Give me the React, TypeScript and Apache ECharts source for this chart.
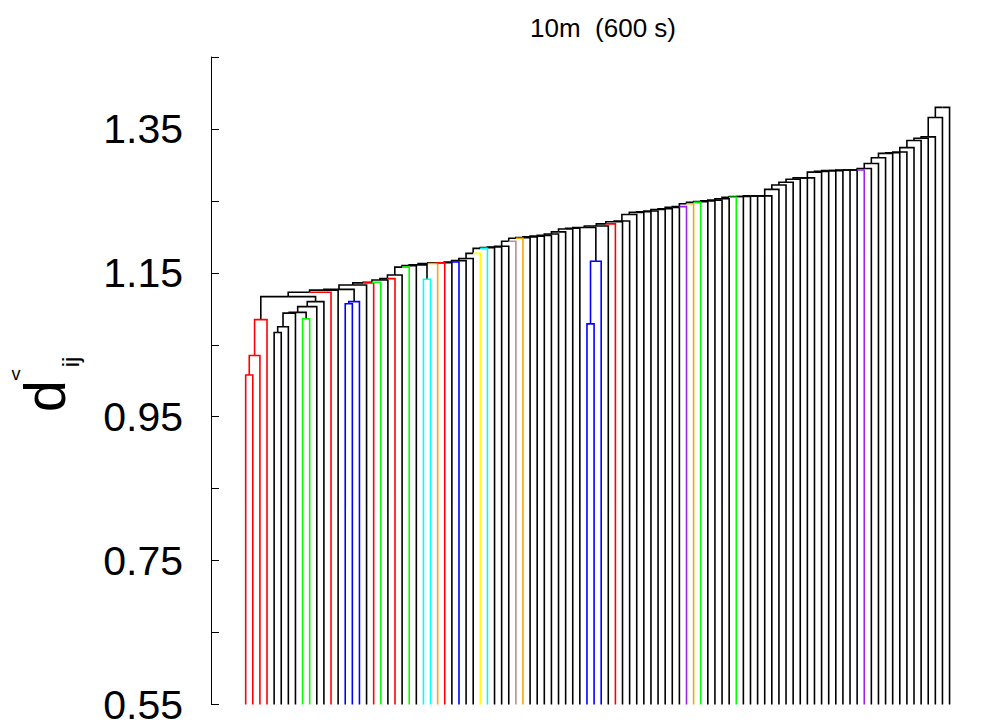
import React, { useEffect, useRef } from "react";
import * as echarts from "echarts";

// leaf colours in plotting order (k black, r red, g green, b blue, c cyan, o orange, y yellow, t rosybrown, p purple)
const leafColors: string[] = [
  "r", "r", "r", "r", "k", "k", "k", "k", "g", "g",
  "k", "k", "r", "k", "b", "b", "b", "k", "r", "g",
  "k", "r", "k", "g", "k", "c", "c", "o", "r", "k",
  "b", "k", "k", "y", "c", "k", "k", "k", "t", "o",
  "k", "k", "k", "k", "k", "k", "k", "k", "b", "b",
  "b", "k", "r", "k", "k", "k", "k", "k", "k", "k",
  "k", "k", "p", "o", "g", "k", "k", "k", "k", "g",
  "k", "k", "k", "k", "k", "k", "k", "k", "k", "k",
  "k", "k", "k", "k", "k", "k", "k", "p", "k", "k",
  "k", "k", "k", "k", "k", "k", "k", "k", "k", "k",
];

const palette: Record<string, string> = {
  k: "#000000", r: "#FF0000", g: "#00FF00", b: "#0000FF", c: "#00FFFF",
  o: "#FFA500", y: "#FFFF00", t: "#BC8F8F", p: "#A020F0",
};

// R-style merge table: negative = leaf number, positive = earlier merge number
const mergeLeft: number[] = [
  -1, 1, 2, -5, 4, -9, 5, 7, 8, 9,
  3, 11, 12, -15, 14, 13, 16, 17, 18, 19,
  20, 21, 22, 23, -26, 24, 26, 27, 28, 29,
  30, 31, 32, 33, 34, 35, 36, 37, 38, 39,
  40, 41, 42, 43, 44, 45, 46, -49, 48, 47,
  50, 51, 52, 53, 54, 55, 56, 57, 58, 59,
  60, 61, 62, 63, 64, 65, 66, 67, 68, 69,
  70, 71, 72, 73, 74, 75, 76, 77, 78, 79,
  80, 81, 82, 83, 84, 85, 86, 87, 88, 89,
  90, 91, 92, 93, 94, 95, 96, 97, 98,
];
const mergeRight: number[] = [
  -2, -3, -4, -6, -7, -10, -8, 6, -11, -12,
  10, -13, -14, -16, -17, 15, -18, -19, -20, -21,
  -22, -23, -24, -25, -27, 25, -28, -29, -30, -31,
  -32, -33, -34, -35, -36, -37, -38, -39, -40, -41,
  -42, -43, -44, -45, -46, -47, -48, -50, -51, 49,
  -52, -53, -54, -55, -56, -57, -58, -59, -60, -61,
  -62, -63, -64, -65, -66, -67, -68, -69, -70, -71,
  -72, -73, -74, -75, -76, -77, -78, -79, -80, -81,
  -82, -83, -84, -85, -86, -87, -88, -89, -90, -91,
  -92, -93, -94, -95, -96, -97, -98, -99, -100,
];
const mergeHeight: number[] = [
  1.008, 1.035, 1.085, 1.067, 1.075, 1.086, 1.094, 1.095, 1.103, 1.110,
  1.117, 1.123, 1.126, 1.107, 1.110, 1.127, 1.133, 1.136, 1.137, 1.140,
  1.142, 1.147, 1.158, 1.160, 1.141, 1.161, 1.163, 1.164, 1.164, 1.165,
  1.167, 1.170, 1.177, 1.184, 1.185, 1.186, 1.187, 1.194, 1.198, 1.199,
  1.200, 1.201, 1.202, 1.204, 1.207, 1.211, 1.212, 1.079, 1.166, 1.213,
  1.215, 1.218, 1.221, 1.222, 1.231, 1.234, 1.235, 1.236, 1.238, 1.239,
  1.241, 1.242, 1.246, 1.248, 1.249, 1.250, 1.251, 1.253, 1.255, 1.256,
  1.256, 1.257, 1.257, 1.257, 1.266, 1.272, 1.276, 1.280, 1.282, 1.282,
  1.290, 1.291, 1.292, 1.292, 1.293, 1.293, 1.293, 1.295, 1.302, 1.310,
  1.316, 1.317, 1.318, 1.324, 1.334, 1.337, 1.339, 1.366, 1.380,
];

const yTickValues = [0.55, 0.75, 0.95, 1.15, 1.35];
const yMin = 0.55;
const yMax = 1.45;
const titleText = "10m  (600 s)";

function buildEdges() {
  const nodeX: number[] = [];
  const nodeC: string[] = [];
  const info = (id: number) => {
    if (id < 0) return { x: -id, h: yMin, c: leafColors[-id - 1], leaf: true };
    return { x: nodeX[id - 1], h: mergeHeight[id - 1], c: nodeC[id - 1], leaf: false };
  };
  const edges: { coords: number[][]; lineStyle: { color: string } }[] = [];
  for (let i = 0; i < mergeLeft.length; i++) {
    const a = info(mergeLeft[i]);
    const b = info(mergeRight[i]);
    const h = mergeHeight[i];
    const x = (a.x + b.x) / 2;
    nodeX[i] = x;
    nodeC[i] = a.c === b.c ? a.c : "k";
    for (const ch of [a, b]) {
      const col = ch.leaf ? ch.c : ch.c === nodeC[i] ? ch.c : "k";
      edges.push({
        coords: [[x, h], [ch.x, h], [ch.x, ch.h]],
        lineStyle: { color: palette[col] },
      });
    }
  }
  edges.sort((p, q) => (p.lineStyle.color === "#000000" ? 0 : 1) - (q.lineStyle.color === "#000000" ? 0 : 1));
  return edges;
}

export default function App() {
  const ref = useRef<HTMLDivElement>(null);
  useEffect(() => {
    if (!ref.current) return;
    const chart = echarts.init(ref.current, null, { renderer: "svg" });
    const font = "Liberation Sans, Arial, Helvetica, sans-serif";
    chart.setOption({
      animation: false,
      backgroundColor: "#ffffff",
      grid: { left: 211, top: 57, width: 767, height: 651, containLabel: false },
      xAxis: { type: "value", min: -3.88, max: 104, show: false },
      yAxis: {
        type: "value",
        min: yMin,
        max: yMax,
        interval: 0.1,
        axisLine: { show: true, onZero: false, lineStyle: { color: "#000", width: 1 } },
        axisTick: { show: true, inside: true, length: 8, lineStyle: { color: "#000", width: 1 } },
        splitLine: { show: false },
        axisLabel: {
          margin: 28,
          color: "#000",
          fontSize: 41,
          fontFamily: font,
          formatter: (v: number) => {
            const hit = yTickValues.find((t) => Math.abs(t - v) < 1e-6);
            return hit !== undefined ? hit.toFixed(2) : "";
          },
        },
      },
      series: [
        {
          type: "lines",
          coordinateSystem: "cartesian2d",
          polyline: true,
          silent: true,
          lineStyle: { width: 1.6, opacity: 1 },
          data: buildEdges(),
        },
      ],
      graphic: [
        {
          type: "text",
          x: 603,
          y: 28,
          style: { text: titleText, font: `26px ${font}`, fill: "#000", textAlign: "center", textVerticalAlign: "middle" },
        },
        {
          type: "text",
          x: 44,
          y: 396,
          rotation: Math.PI / 2,
          style: { text: "d", font: `58px ${font}`, fill: "#000", textAlign: "center", textVerticalAlign: "middle" },
        },
        {
          type: "text",
          x: 16,
          y: 374,
          style: { text: "v", font: `18px ${font}`, fill: "#000", textAlign: "center", textVerticalAlign: "middle" },
        },
        {
          type: "text",
          x: 70,
          y: 362,
          rotation: Math.PI / 2,
          style: { text: "ij", font: `24px ${font}`, fill: "#000", textAlign: "center", textVerticalAlign: "middle" },
        },
      ],
    });
    return () => chart.dispose();
  }, []);
  return <div ref={ref} style={{ position: "fixed", left: 0, top: 0, width: 982, height: 725 }} />;
}
